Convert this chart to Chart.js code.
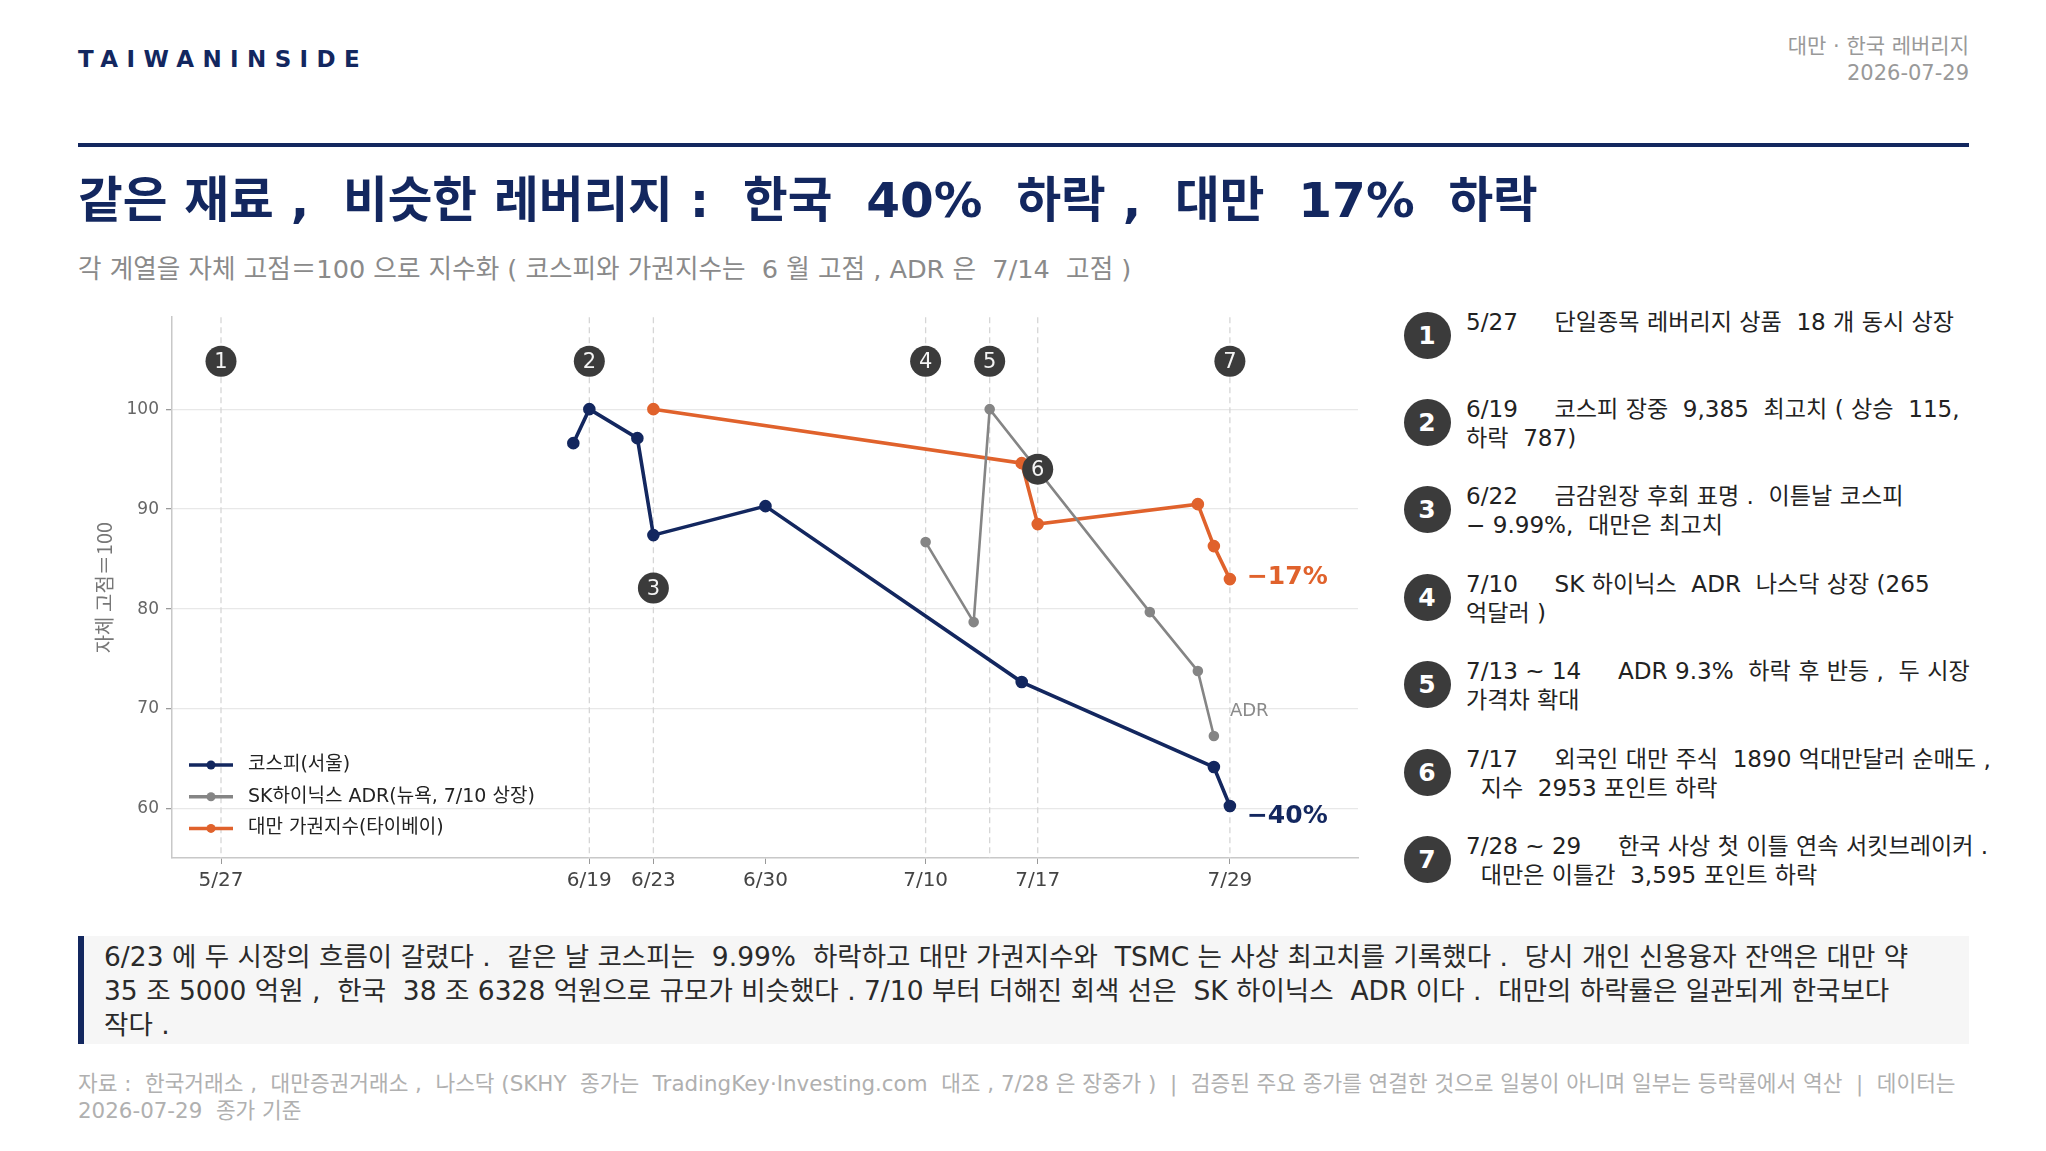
<!DOCTYPE html>
<html lang="ko">
<head>
<meta charset="utf-8">
<script src="https://cdn.jsdelivr.net/npm/chart.js@4.4.1/dist/chart.umd.min.js"></script>
<style>
  html, body { margin: 0; padding: 0; background: #fff; }
  body { width: 2046px; height: 1151px; position: relative; overflow: hidden;
         font-family: "DejaVu Sans", "Noto Sans CJK KR", sans-serif; }
  .abs { position: absolute; white-space: pre; }
  #brand { left: 78px; top: 46px; font-size: 23px; line-height: 26px; font-weight: bold;
           letter-spacing: 8.4px; color: #13275f; }
  #meta { right: 77px; top: 33px; font-size: 21px; line-height: 27px; color: #999; text-align: right; }
  #rule { left: 78px; top: 143px; width: 1891px; height: 4px; background: #13275f; }
  #title { left: 78px; top: 170px; font-size: 48.6px; line-height: 60px; font-weight: bold; color: #13275f; }
  #subtitle { left: 78px; top: 252px; font-size: 25.6px; line-height: 34px; color: #8a8a8a; }
  #chartBox { position: absolute; left: 78px; top: 300px; width: 1290px; height: 600px; }
  .note-dot { position: absolute; width: 47px; height: 47px; border-radius: 50%; background: #3b3b3b;
              color: #fff; font-weight: bold; font-size: 25px; line-height: 47px; text-align: center; }
  .note-txt { position: absolute; left: 1466px; font-size: 23.1px; line-height: 29px; color: #222; white-space: pre; }
  #summary { left: 78px; top: 936px; width: 1865px; height: 108px; background: #f6f6f6;
             border-left: 6px solid #13275f; padding-left: 20px; box-sizing: content-box;
             font-size: 26.5px; line-height: 34px; color: #2a2a2a; }
  #summary div { position: relative; top: 4px; }
  #footer { left: 78px; top: 1070px; font-size: 21.4px; line-height: 27px; color: #b0b0b0; }
</style>
</head>
<body>
<div id="brand" class="abs">TAIWANINSIDE</div>
<div id="meta" class="abs">대만 · 한국 레버리지
2026-07-29</div>
<div id="rule" class="abs"></div>
<div id="title" class="abs">같은 재료 ,  비슷한 레버리지 :  한국  40%  하락 ,  대만  17%  하락</div>
<div id="subtitle" class="abs">각 계열을 자체 고점＝100 으로 지수화 ( 코스피와 가권지수는  6 월 고점 , ADR 은  7/14  고점 )</div>
<div id="chartBox"><canvas id="chart"></canvas></div>
<div id="notes"></div>
<div id="summary" class="abs"><div>6/23 에 두 시장의 흐름이 갈렸다 .  같은 날 코스피는  9.99%  하락하고 대만 가권지수와  TSMC 는 사상 최고치를 기록했다 .  당시 개인 신용융자 잔액은 대만 약
35 조 5000 억원 ,  한국  38 조 6328 억원으로 규모가 비슷했다 . 7/10 부터 더해진 회색 선은  SK 하이닉스  ADR 이다 .  대만의 하락률은 일관되게 한국보다
작다 .</div></div>
<div id="footer" class="abs">자료 :  한국거래소 ,  대만증권거래소 ,  나스닥 (SKHY  종가는  TradingKey·Investing.com  대조 , 7/28 은 장중가 )  |  검증된 주요 종가를 연결한 것으로 일봉이 아니며 일부는 등락률에서 역산  |  데이터는
2026-07-29  종가 기준</div>

<script>
// series (date, index value with own peak = 100)
const kospiDates = ['6/18', '6/19', '6/22', '6/23', '6/30', '7/16', '7/28', '7/29'];
const kospiValues = [96.6, 100, 97.1, 87.4, 90.3, 72.7, 64.2, 60.3];

const adrDates = ['7/10', '7/13', '7/14', '7/24', '7/27', '7/28'];
const adrValues = [86.7, 78.7, 100, 79.7, 73.8, 67.3];

const taiexDates = ['6/23', '7/16', '7/17', '7/27', '7/28', '7/29'];
const taiexValues = [100, 94.6, 88.5, 90.5, 86.3, 83.0];

const seriesLabels = ['코스피(서울)', 'SK하이닉스 ADR(뉴욕, 7/10 상장)', '대만 가권지수(타이베이)'];

// axis ticks
const xTickDates = ['5/27', '6/19', '6/23', '6/30', '7/10', '7/17', '7/29'];
const yTicks = [60, 70, 80, 90, 100];

// event lines and numbered markers
const eventDates = ['5/27', '6/19', '6/23', '7/10', '7/14', '7/17', '7/29'];
const markerNums = [1, 2, 3, 4, 5, 6, 7];
const markerDates = ['5/27', '6/19', '6/23', '7/10', '7/14', '7/17', '7/29'];
const markerValues = [104.8, 104.8, 82.1, 104.8, 104.8, 94.0, 104.8];

// right-hand notes
const noteTexts = [
  '5/27     단일종목 레버리지 상품  18 개 동시 상장',
  '6/19     코스피 장중  9,385  최고치 ( 상승  115,\n하락  787)',
  '6/22     금감원장 후회 표명 .  이튿날 코스피\n− 9.99%,  대만은 최고치',
  '7/10     SK 하이닉스  ADR  나스닥 상장 (265\n억달러 )',
  '7/13 ~ 14     ADR 9.3%  하락 후 반등 ,  두 시장\n가격차 확대',
  '7/17     외국인 대만 주식  1890 억대만달러 순매도 ,\n  지수  2953 포인트 하락',
  '7/28 ~ 29     한국 사상 첫 이틀 연속 서킷브레이커 .\n  대만은 이틀간  3,595 포인트 하락'
];

const NAVY = '#13275f';
const ORANGE = '#e0622c';
const GRAY = '#858585';

function dayOf(md) {
  const [m, d] = md.split('/').map(Number);
  return (Date.UTC(2026, m - 1, d) - Date.UTC(2026, 4, 27)) / 86400000;
}
function pts(dates, vals) {
  return dates.map((d, i) => ({ x: dayOf(d), y: vals[i] }));
}

// notes column
const notesEl = document.getElementById('notes');
noteTexts.forEach((t, i) => {
  const cy = 335 + i * 87.4;
  const dot = document.createElement('div');
  dot.className = 'note-dot';
  dot.style.left = (1427 - 23.5) + 'px';
  dot.style.top = (cy - 23.5) + 'px';
  dot.textContent = markerNums[i];
  notesEl.appendChild(dot);
  const txt = document.createElement('div');
  txt.className = 'note-txt';
  txt.style.top = (cy - 13 - 14.5) + 'px';
  txt.textContent = t;
  notesEl.appendChild(txt);
});

const eventLines = {
  id: 'eventLines',
  beforeDatasetsDraw(chart) {
    const { ctx, chartArea, scales } = chart;
    ctx.save();
    ctx.strokeStyle = '#d6d6d6';
    ctx.lineWidth = 1.3;
    ctx.setLineDash([6, 4]);
    eventDates.forEach(d => {
      const x = scales.x.getPixelForValue(dayOf(d));
      ctx.beginPath();
      ctx.moveTo(x, chartArea.top);
      ctx.lineTo(x, chartArea.bottom);
      ctx.stroke();
    });
    ctx.restore();
  }
};

const overlay = {
  id: 'overlay',
  afterDatasetsDraw(chart) {
    const { ctx, chartArea, scales } = chart;
    ctx.save();
    // numbered markers
    markerNums.forEach((n, i) => {
      const x = scales.x.getPixelForValue(dayOf(markerDates[i]));
      const y = scales.y.getPixelForValue(markerValues[i]);
      ctx.beginPath();
      ctx.arc(x, y, 15.5, 0, Math.PI * 2);
      ctx.fillStyle = '#3b3b3b';
      ctx.fill();
      ctx.fillStyle = '#f4f4f4';
      ctx.font = '21px "DejaVu Sans"';
      ctx.textAlign = 'center';
      ctx.textBaseline = 'middle';
      ctx.fillText(String(n), x, y + 1);
    });
    // end labels
    const x729 = scales.x.getPixelForValue(dayOf('7/29'));
    ctx.textAlign = 'left';
    ctx.textBaseline = 'middle';
    ctx.font = 'bold 25px "DejaVu Sans"';
    ctx.fillStyle = ORANGE;
    ctx.fillText('−17%', x729 + 17, scales.y.getPixelForValue(taiexValues[taiexValues.length - 1]) - 2);
    ctx.fillStyle = NAVY;
    ctx.fillText('−40%', x729 + 17, scales.y.getPixelForValue(kospiValues[kospiValues.length - 1]) + 10);
    ctx.font = '18px "DejaVu Sans"';
    ctx.fillStyle = '#8a8a8a';
    ctx.fillText('ADR', x729, scales.y.getPixelForValue(69.8));

    // legend inside plot, lower left
    const colors = [NAVY, GRAY, ORANGE];
    ctx.font = '19px "DejaVu Sans", "Noto Sans CJK KR"';
    seriesLabels.forEach((lab, i) => {
      const y = chartArea.bottom - 93 + i * 31.7;
      const x0 = chartArea.left + 17;
      ctx.strokeStyle = colors[i];
      ctx.lineWidth = 3.5;
      ctx.setLineDash([]);
      ctx.beginPath();
      ctx.moveTo(x0, y);
      ctx.lineTo(x0 + 44, y);
      ctx.stroke();
      ctx.beginPath();
      ctx.arc(x0 + 22, y, 4.5, 0, Math.PI * 2);
      ctx.fillStyle = colors[i];
      ctx.fill();
      ctx.fillStyle = '#222';
      ctx.fillText(lab, x0 + 59, y);
    });
    ctx.restore();
  }
};

const ctx = document.getElementById('chart').getContext('2d');

new Chart(ctx, {
  type: 'line',
  data: {
    datasets: [
      { label: seriesLabels[0], data: pts(kospiDates, kospiValues), borderColor: NAVY, backgroundColor: NAVY,
        borderWidth: 3.6, pointRadius: 4.5, pointHoverRadius: 4.5, tension: 0 },
      { label: seriesLabels[1], data: pts(adrDates, adrValues), borderColor: GRAY, backgroundColor: GRAY,
        borderWidth: 2.6, pointRadius: 4, pointHoverRadius: 4, tension: 0 },
      { label: seriesLabels[2], data: pts(taiexDates, taiexValues), borderColor: ORANGE, backgroundColor: ORANGE,
        borderWidth: 3.6, pointRadius: 4.5, pointHoverRadius: 4.5, tension: 0 }
    ]
  },
  options: {
    responsive: true,
    maintainAspectRatio: false,
    animation: false,
    layout: { padding: { top: 17, right: 10, left: 0, bottom: 0 } },
    plugins: { legend: { display: false }, tooltip: { enabled: false } },
    scales: {
      x: {
        type: 'linear',
        min: -3.06,
        max: 71.0,
        afterBuildTicks: s => { s.ticks = xTickDates.map(d => ({ value: dayOf(d) })); },
        afterFit: s => { s.height = 42; },
        ticks: {
          autoSkip: false, maxRotation: 0, padding: 5, color: '#444',
          font: { family: 'DejaVu Sans', size: 20 },
          callback: v => xTickDates.find(d => dayOf(d) === v) || ''
        },
        grid: { drawOnChartArea: false, tickLength: 6, tickColor: '#999' },
        border: { color: '#c8c8c8', width: 1.5 }
      },
      y: {
        min: 55.1,
        max: 109.2,
        afterBuildTicks: s => { s.ticks = yTicks.map(v => ({ value: v })); },
        afterFit: s => { s.width = 94; },
        ticks: { padding: 7, color: '#666', font: { family: 'DejaVu Sans', size: 17 } },
        grid: { color: '#e8e8e8', lineWidth: 1.3, tickLength: 6, tickColor: '#999' },
        border: { color: '#c8c8c8', width: 1.5 },
        title: { display: true, text: '자체 고점＝100', color: '#777',
                 font: { family: 'Noto Sans CJK KR', size: 20 }, padding: { top: 14, bottom: 0 } }
      }
    }
  },
  plugins: [eventLines, overlay]
});
</script>
</body>
</html>
